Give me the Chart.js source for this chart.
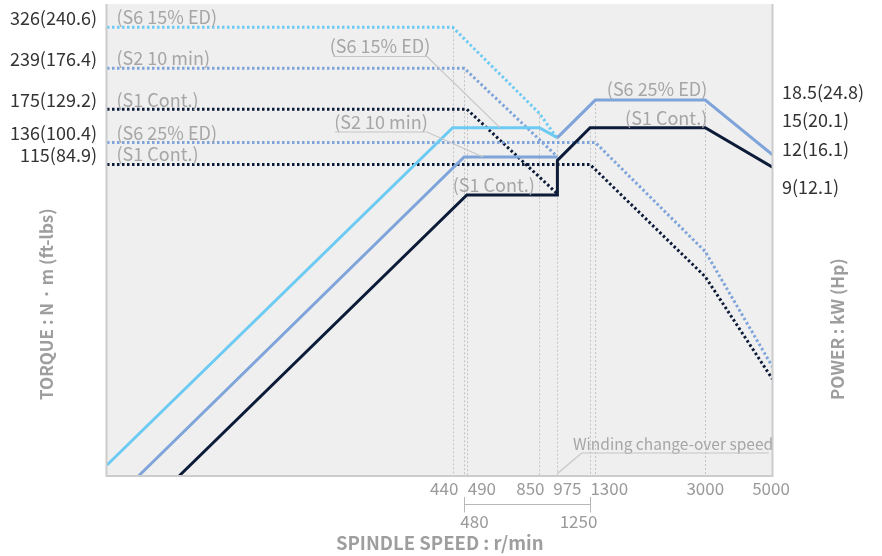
<!DOCTYPE html>
<html><head><meta charset="utf-8">
<script src="https://cdn.jsdelivr.net/npm/chart.js@4.4.0/dist/chart.umd.min.js"></script>
<style>html,body{margin:0;padding:0;background:#fff;}canvas{display:block;}</style>
</head><body>
<canvas id="c" width="882" height="556"></canvas>
<script>
// ---- axis ranges ----
const speedMin = 31.8, speedMax = 5000;
const torqueMin = 10.78, torqueMax = 389.3;
const powerMin = 1.0627, powerMax = 38.39;

// ---- tick labels ----
const xTickValues = [440, 490, 850, 975, 1300, 3000, 5000];
const xSubTickValues = [480, 1250];
const torqueTicks = [326, 239, 175, 136, 115];
const torqueTickLabels = ['326(240.6)', '239(176.4)', '175(129.2)', '136(100.4)', '115(84.9)'];
const powerTicks = [18.5, 15, 12, 9];
const powerTickLabels = ['18.5(24.8)', '15(20.1)', '12(16.1)', '9(12.1)'];

// ---- torque curves (N·m) ----
const s6_15_torqueSpeed = [31.8, 440, 850, 975];
const s6_15_torque      = [326, 326, 169.7, 140];
const s2_torqueSpeed    = [31.8, 480, 975];
const s2_torque         = [239, 239, 122];
const s1Low_torqueSpeed = [31.8, 490, 975];
const s1Low_torque      = [175, 175, 92];
const s6_25_torqueSpeed = [31.8, 1300, 3000, 5000];
const s6_25_torque      = [136, 136, 59.3, 24.7];
const s1High_torqueSpeed= [31.8, 1250, 3000, 5000];
const s1High_torque     = [115, 115, 49, 22.5];

// ---- power curves (kW) ----
const s6_15_powerSpeed = [31.8, 440, 850, 975];
const s6_15_power      = [1.155, 15, 15, 13.9];
const s2_powerSpeed    = [40.4, 480, 975];
const s2_power         = [1.063, 12, 12];
const s1_powerSpeed    = [55, 490, 975, 975, 1250, 3000, 5000];
const s1_power         = [1.063, 9, 9, 11.7, 15, 15, 11.1];
const s6_25_powerSpeed = [975, 1300, 3000, 5000];
const s6_25_power      = [13.9, 18.5, 18.5, 12.2];

// ---- vertical drop lines (speed, axis, top value) ----
const dropSpeeds = [440, 480, 490, 850, 975, 1250, 1300, 3000];
const dropAxes   = ['yT', 'yT', 'yT', 'yT', 'yP', 'yP', 'yP', 'yP'];
const dropTops   = [326, 239, 175, 169.7, 13.9, 15, 18.5, 18.5];

const LIGHT = '#6dcbf3', MID = '#7ea4da', NAVY = '#0b1b38';
const FONT = '"Noto Sans CJK KR", "Noto Sans", sans-serif';
const zip = (xs, ys) => xs.map((x, i) => ({x, y: ys[i]}));

function solid(label, xs, ys, color) {
  return {label, data: zip(xs, ys), yAxisID: 'yP', borderColor: color, borderWidth: 3,
    pointRadius: 0, fill: false, tension: 0, borderJoinStyle: 'miter'};
}
function dotted(label, xs, ys, color) {
  return {label, data: zip(xs, ys), yAxisID: 'yT', borderColor: color, borderWidth: 3,
    borderDash: [2.5, 2.5], pointRadius: 0, fill: false, tension: 0};
}

const datasets = [
  solid('S1 Cont. power', s1_powerSpeed, s1_power, NAVY),
  solid('S6 25% ED power', s6_25_powerSpeed, s6_25_power, MID),
  solid('S2 10 min power', s2_powerSpeed, s2_power, MID),
  solid('S6 15% ED power', s6_15_powerSpeed, s6_15_power, LIGHT),
  dotted('S1 Cont. torque (high)', s1High_torqueSpeed, s1High_torque, NAVY),
  dotted('S6 25% ED torque', s6_25_torqueSpeed, s6_25_torque, MID),
  dotted('S1 Cont. torque (low)', s1Low_torqueSpeed, s1Low_torque, NAVY),
  dotted('S2 10 min torque', s2_torqueSpeed, s2_torque, MID),
  dotted('S6 15% ED torque', s6_15_torqueSpeed, s6_15_torque, LIGHT)
];

function noPad(s) { s.paddingTop = 0; s.paddingBottom = 0; s.paddingLeft = 0; s.paddingRight = 0; }

const decor = {
  id: 'decor',
  beforeDatasetsDraw(chart) {
    const {ctx, chartArea: a, scales} = chart;
    ctx.save();
    ctx.fillStyle = '#efefef';
    ctx.fillRect(a.left, a.top, a.right - a.left, a.bottom - a.top);
    ctx.strokeStyle = '#c4c4c4'; ctx.lineWidth = 1; ctx.setLineDash([2, 2]);
    dropSpeeds.forEach((v, i) => {
      const x = Math.round(scales.x.getPixelForValue(v)) + 0.5;
      const y = scales[dropAxes[i]].getPixelForValue(dropTops[i]);
      ctx.beginPath(); ctx.moveTo(x, y); ctx.lineTo(x, a.bottom); ctx.stroke();
    });
    ctx.restore();
  },
  afterDatasetsDraw(chart) {
    const {ctx, chartArea: a, scales} = chart;
    const X = v => scales.x.getPixelForValue(v);
    const YT = v => scales.yT.getPixelForValue(v);
    const YP = v => scales.yP.getPixelForValue(v);
    ctx.save();
    // frame
    ctx.strokeStyle = '#cccccc'; ctx.lineWidth = 2;
    ctx.beginPath();
    ctx.moveTo(a.left - 0.5, a.top); ctx.lineTo(a.left - 0.5, a.bottom);
    ctx.lineTo(a.right, a.bottom); ctx.lineTo(a.right, a.top);
    ctx.stroke();

    // gray curve labels
    ctx.font = '18px ' + FONT; ctx.fillStyle = '#a6a6a6'; ctx.textBaseline = 'middle';
    ctx.textAlign = 'left';
    const leftX = a.left + 9.5;
    ctx.fillText('(S6 15% ED)', leftX, YT(326) - 10);
    ctx.fillText('(S2 10 min)', leftX, YT(239) - 10);
    ctx.fillText('(S1 Cont.)', leftX, YT(175) - 9);
    ctx.fillText('(S6 25% ED)', leftX, YT(136) - 9);
    ctx.fillText('(S1 Cont.)', leftX, YT(115) - 10);
    ctx.fillText('(S1 Cont.)', X(440), YP(9) - 9.5);
    ctx.textAlign = 'right';
    ctx.fillText('(S6 25% ED)', X(3000) + 2, YP(18.5) - 11);
    ctx.fillText('(S1 Cont.)', X(3000) + 2, YP(15) - 10);
    ctx.textAlign = 'center';
    ctx.fillText('(S6 15% ED)', 380, 46.5);
    ctx.fillText('(S2 10 min)', 381, 122);
    ctx.textAlign = 'left';
    ctx.font = '15.5px ' + FONT;
    ctx.fillText('Winding change-over speed', 573, 444.5);

    // underlines + leader lines
    ctx.strokeStyle = '#c6c6c6'; ctx.lineWidth = 1.2;
    ctx.beginPath();
    ctx.moveTo(333, 56.5); ctx.lineTo(427, 56.5); ctx.lineTo(X(630), YP(15));
    ctx.moveTo(335, 132); ctx.lineTo(427, 132); ctx.lineTo(X(554), YP(12));
    ctx.moveTo(769, 453); ctx.lineTo(581.7, 453); ctx.lineTo(X(975), a.bottom - 2.5);
    ctx.stroke();

    // x tick labels (main row)
    const xDx = [-8.5, 15, -9, 10, 14, 0, -1.5];
    ctx.font = '17px ' + FONT; ctx.fillStyle = '#9a9a9a'; ctx.textAlign = 'center';
    xTickValues.forEach((v, i) => ctx.fillText(String(v), X(v) + xDx[i], 489));
    // bracket 480 - 1250
    const bx1 = Math.round(X(xSubTickValues[0])) + 0.5, bx2 = Math.round(X(xSubTickValues[1])) + 0.5;
    ctx.strokeStyle = '#b8b8b8'; ctx.lineWidth = 1;
    ctx.beginPath();
    ctx.moveTo(bx1, 497); ctx.lineTo(bx1, 512.5);
    ctx.moveTo(bx2, 497); ctx.lineTo(bx2, 512.5);
    ctx.moveTo(bx1, 504.5); ctx.lineTo(bx2, 504.5);
    ctx.stroke();
    ctx.fillText(String(xSubTickValues[0]), bx1 + 10, 522);
    ctx.fillText(String(xSubTickValues[1]), bx2 - 12, 522);

    // axis titles
    ctx.font = 'bold 18.5px ' + FONT; ctx.fillStyle = '#9e9e9e';
    ctx.textAlign = 'center';
    ctx.fillText('SPINDLE SPEED : r/min', (a.left + a.right) / 2, 543);
    ctx.font = 'bold 17px ' + FONT;
    ctx.textAlign = 'left';
    ctx.save(); ctx.translate(46.5, 400); ctx.rotate(-Math.PI / 2);
    ctx.fillText('TORQUE : N · m (ft-lbs)', 0, 0); ctx.restore();
    ctx.save(); ctx.translate(838, 400); ctx.rotate(-Math.PI / 2);
    ctx.fillText('POWER : kW (Hp)', 0, 0); ctx.restore();
    ctx.restore();
  }
};

new Chart(document.getElementById('c').getContext('2d'), {
  type: 'line',
  data: {datasets},
  options: {
    responsive: false, animation: false, devicePixelRatio: 1,
    layout: {padding: {top: 4, left: 0, right: 0, bottom: 0}},
    plugins: {legend: {display: false}, tooltip: {enabled: false}},
    scales: {
      x: {
        type: 'logarithmic', min: speedMin, max: speedMax, bounds: 'data',
        grid: {display: false, drawTicks: false}, border: {display: false},
        ticks: {display: false},
        afterBuildTicks: s => { s.ticks = xTickValues.map(v => ({value: v})); },
        afterFit: s => { s.height = 80; noPad(s); }
      },
      yT: {
        type: 'logarithmic', position: 'left', min: torqueMin, max: torqueMax, bounds: 'data',
        grid: {display: false, drawTicks: false}, border: {display: false},
        ticks: {
          autoSkip: false, padding: 10, labelOffset: -9, color: '#333',
          font: {family: FONT, size: 18},
          callback: v => torqueTickLabels[torqueTicks.indexOf(v)]
        },
        afterBuildTicks: s => { s.ticks = torqueTicks.map(v => ({value: v})); },
        afterFit: s => { s.width = 107; noPad(s); }
      },
      yP: {
        type: 'logarithmic', position: 'right', min: powerMin, max: powerMax, bounds: 'data',
        grid: {display: false, drawTicks: false}, border: {display: false},
        ticks: {
          autoSkip: false, padding: 9.5, labelOffset: -8, color: '#333',
          font: {family: FONT, size: 18},
          callback: v => powerTickLabels[powerTicks.indexOf(v)]
        },
        afterBuildTicks: s => { s.ticks = powerTicks.map(v => ({value: v})); },
        afterFit: s => { s.width = 109.5; noPad(s); }
      }
    }
  },
  plugins: [decor]
});
</script>
</body></html>
